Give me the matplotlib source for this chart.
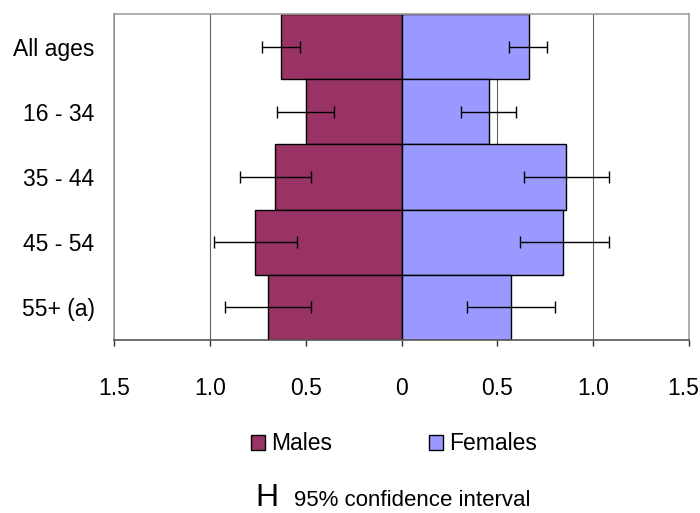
import matplotlib
matplotlib.use('Agg')
import matplotlib.pyplot as plt
import matplotlib.transforms as mtransforms
from matplotlib.patches import Patch

plt.rcParams['font.family'] = ['Liberation Sans', 'DejaVu Sans']

# age groups, top to bottom
groups = ['All ages', '16 - 34', '35 - 44', '45 - 54', '55+ (a)']

males = [0.63, 0.50, 0.66, 0.765, 0.695]
males_lo = [0.53, 0.35, 0.47, 0.545, 0.47]
males_hi = [0.73, 0.65, 0.845, 0.98, 0.92]

females = [0.665, 0.455, 0.86, 0.845, 0.57]
females_lo = [0.56, 0.31, 0.64, 0.62, 0.34]
females_hi = [0.76, 0.595, 1.08, 1.08, 0.80]

xticks = [-1.5, -1.0, -0.5, 0, 0.5, 1.0, 1.5]
xticklabels = ['1.5', '1.0', '0.5', '0', '0.5', '1.0', '1.5']

male_col = '#993366'
female_col = '#9999FF'

fig = plt.figure(figsize=(7.0, 5.13), dpi=100)
ax = fig.add_axes([0.1629, 0.3372, 0.8214, 0.6355])

y = list(range(len(groups)))

# males drawn to the left of zero
m_err = [[h - m for m, h in zip(males, males_hi)],
         [m - l for m, l in zip(males, males_lo)]]
f_err = [[f - l for f, l in zip(females, females_lo)],
         [h - f for f, h in zip(females, females_hi)]]

ax.barh(y, [-m for m in males], height=1.0, color=male_col,
        edgecolor='black', linewidth=1.0, zorder=2)
ax.barh(y, females, height=1.0, color=female_col,
        edgecolor='black', linewidth=1.0, zorder=2)
ax.errorbar([-m for m in males], y, xerr=m_err, fmt='none', ecolor='black',
            elinewidth=1.0, capsize=4, capthick=1.0, zorder=3)
ax.errorbar(females, y, xerr=f_err, fmt='none', ecolor='black',
            elinewidth=1.0, capsize=4, capthick=1.0, zorder=3)

ax.set_xlim(-1.5, 1.5)
ax.set_ylim(len(groups) - 0.5, -0.5)
ax.set_xticks(xticks)
ax.set_xticklabels(xticklabels, fontsize=16.5)
ax.set_yticks(y)
ax.set_yticklabels(groups, fontsize=16.5)
ax.tick_params(axis='y', length=0, pad=14)
ax.tick_params(axis='x', length=4.5, width=1.0, color='#333333', pad=22)
ax.xaxis.grid(True, color='#606060', linewidth=0.8, zorder=0)
ax.set_axisbelow(True)

# nudge the outer right label so it stays inside the figure
last = ax.get_xticklabels()[-1]
last.set_transform(last.get_transform() +
                   mtransforms.ScaledTranslation(-6 / 100, 0, fig.dpi_scale_trans))

for side in ['top', 'left', 'right']:
    ax.spines[side].set_color('#a0a0a0')
    ax.spines[side].set_linewidth(1.2)
ax.spines['bottom'].set_color('#555555')
ax.spines['bottom'].set_linewidth(1.2)

handles = [Patch(facecolor=male_col, edgecolor='black', label='Males'),
           Patch(facecolor=female_col, edgecolor='black', label='Females')]
fig.legend(handles=handles, loc='center', bbox_to_anchor=(0.563, 1 - 444 / 513),
           ncol=2, frameon=False, fontsize=16.5, handlelength=0.6,
           handleheight=0.6, handletextpad=0.3, columnspacing=4.2)

fig.text(267 / 700, 1 - 498 / 513, 'H', fontsize=23, ha='center', va='center')
fig.text(294 / 700, 1 - 500 / 513, '95% confidence interval', fontsize=16,
         ha='left', va='center')

fig.savefig('out.png', dpi=100)
